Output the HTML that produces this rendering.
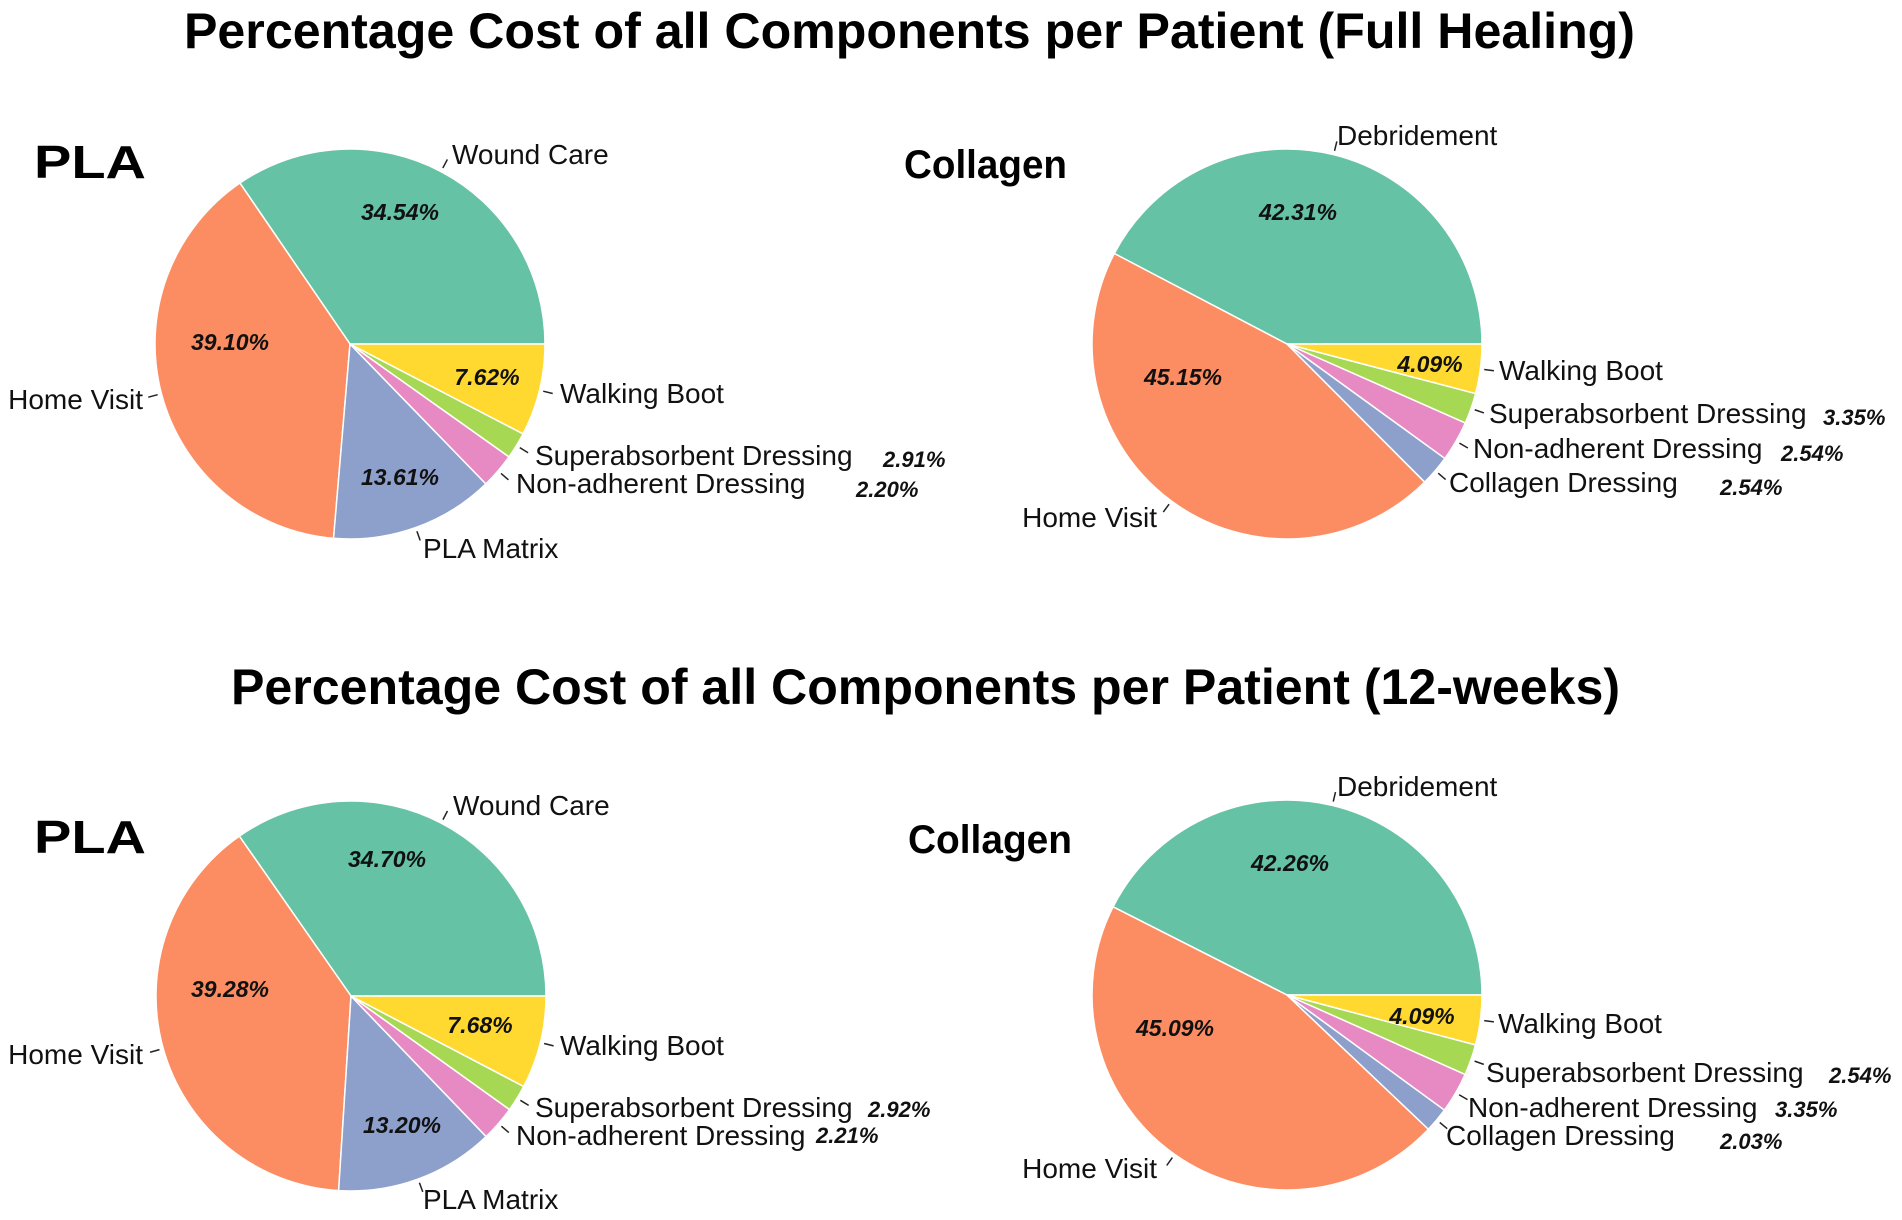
<!DOCTYPE html>
<html><head><meta charset="utf-8"><style>
html,body{margin:0;padding:0;background:#fff;}
svg{display:block;font-family:"Liberation Sans",Arial,sans-serif;}
</style></head><body>
<svg id="fig" width="1902" height="1220" viewBox="0 0 1902 1220">
<text x="184" y="48" font-size="50" font-weight="bold" textLength="1451" lengthAdjust="spacingAndGlyphs">Percentage Cost of all Components per Patient (Full Healing)</text>
<text x="231" y="704" font-size="50" font-weight="bold" textLength="1389" lengthAdjust="spacingAndGlyphs">Percentage Cost of all Components per Patient (12-weeks)</text>
<text x="34" y="178" font-size="46" font-weight="bold" textLength="112" lengthAdjust="spacingAndGlyphs">PLA</text>
<text x="904" y="178" font-size="40" font-weight="bold" textLength="163" lengthAdjust="spacingAndGlyphs">Collagen</text>
<text x="34" y="853" font-size="46" font-weight="bold" textLength="112" lengthAdjust="spacingAndGlyphs">PLA</text>
<text x="908" y="853" font-size="40" font-weight="bold" textLength="164" lengthAdjust="spacingAndGlyphs">Collagen</text>
</svg>
<script>
const colors = ["#66c2a5","#fc8d62","#8da0cb","#e78ac3","#a6d854","#ffd92f"];
// PLA full healing
const plaFullCategories = ["Wound Care","Home Visit","PLA Matrix","Non-adherent Dressing","Superabsorbent Dressing","Walking Boot"];
const plaFullValues = [34.54, 39.10, 13.61, 2.91, 2.20, 7.62];
const plaFullInner = ["34.54%","39.10%","13.61%","","","7.62%"];
const plaFullOuter = ["","","","2.20%","2.91%",""];
// Collagen full healing
const colFullCategories = ["Debridement","Home Visit","Collagen Dressing","Non-adherent Dressing","Superabsorbent Dressing","Walking Boot"];
const colFullValues = [42.31, 45.15, 2.54, 3.35, 2.54, 4.09];
const colFullInner = ["42.31%","45.15%","","","","4.09%"];
const colFullOuter = ["","","2.54%","2.54%","3.35%",""];
// PLA 12 weeks
const pla12Categories = ["Wound Care","Home Visit","PLA Matrix","Non-adherent Dressing","Superabsorbent Dressing","Walking Boot"];
const pla12Values = [34.70, 39.28, 13.20, 2.92, 2.21, 7.68];
const pla12Inner = ["34.70%","39.28%","13.20%","","","7.68%"];
const pla12Outer = ["","","","2.21%","2.92%",""];
// Collagen 12 weeks
const col12Categories = ["Debridement","Home Visit","Collagen Dressing","Non-adherent Dressing","Superabsorbent Dressing","Walking Boot"];
const col12Values = [42.26, 45.09, 2.03, 3.35, 2.54, 4.09];
const col12Inner = ["42.26%","45.09%","","","","4.09%"];
const col12Outer = ["","","2.03%","3.35%","2.54%",""];

const NS="http://www.w3.org/2000/svg";
const svg=document.getElementById('fig');
function mk(tag,attrs,parent){const e=document.createElementNS(NS,tag);for(const k in attrs)e.setAttribute(k,attrs[k]);(parent||svg).appendChild(e);return e;}

const charts=[
 {id:'pla-full',cx:350,cy:344,r:195,cats:plaFullCategories,vals:plaFullValues,inner:plaFullInner,outer:plaFullOuter,
  innerPos:[[400,212],[230,342],[400,477],null,null,[487,377]],
  labelPos:[[452,164],[143,409,'end'],[423,558],[516,493],[535,465],[560,403]],
  outerPos:[null,null,null,[856,497],[883,467],null]},
 {id:'collagen-full',cx:1287,cy:344,r:195,cats:colFullCategories,vals:colFullValues,inner:colFullInner,outer:colFullOuter,
  innerPos:[[1298,212],[1183,377],null,null,null,[1430,364]],
  labelPos:[[1337,145],[1157,527,'end'],[1449,492],[1473,458],[1489,423],[1499,380]],
  outerPos:[null,null,[1720,495],[1781,461],[1823,425],null]},
 {id:'pla-12wk',cx:351,cy:996,r:195,cats:pla12Categories,vals:pla12Values,inner:pla12Inner,outer:pla12Outer,
  innerPos:[[387,859],[230,989],[402,1125],null,null,[480,1025]],
  labelPos:[[453,815],[143,1064,'end'],[423,1209],[516,1145],[535,1117],[560,1055]],
  outerPos:[null,null,null,[816,1143],[868,1117],null]},
 {id:'collagen-12wk',cx:1287,cy:995,r:195,cats:col12Categories,vals:col12Values,inner:col12Inner,outer:col12Outer,
  innerPos:[[1290,863],[1175,1028],null,null,null,[1422,1016]],
  labelPos:[[1337,796],[1157,1178,'end'],[1446,1145],[1468,1117],[1486,1082],[1498,1033]],
  outerPos:[null,null,[1720,1149],[1775,1117],[1829,1083],null]}
];

charts.forEach(c=>{
  const g=mk('g',{});
  
  
  const total=c.vals.reduce((a,b)=>a+b,0);
  let cum=0;
  c.vals.forEach((v,i)=>{
    const a0=cum/total*2*Math.PI; cum+=v; const a1=cum/total*2*Math.PI;
    const x0=c.cx+c.r*Math.cos(a0), y0=c.cy-c.r*Math.sin(a0);
    const x1=c.cx+c.r*Math.cos(a1), y1=c.cy-c.r*Math.sin(a1);
    const large=(a1-a0)>Math.PI?1:0;
    const p=mk('path',{d:`M${c.cx},${c.cy} L${x0},${y0} A${c.r},${c.r} 0 ${large} 0 ${x1},${y1} Z`,fill:colors[i],stroke:'#fff','stroke-width':1.5,'stroke-linejoin':'round'},g);
    
    
    const am=(a0+a1)/2;
    const lx0=c.cx+c.r*1.02*Math.cos(am), ly0=c.cy-c.r*1.02*Math.sin(am);
    const lx1=c.cx+c.r*1.07*Math.cos(am), ly1=c.cy-c.r*1.07*Math.sin(am);
    const ln=mk('line',{x1:lx0,y1:ly0,x2:lx1,y2:ly1,stroke:'#222','stroke-width':1.5},g);
    
    
    const lp=c.labelPos[i];
    const t=mk('text',{x:lp[0],y:lp[1],'font-size':28,fill:'#111','text-anchor':lp[2]||'start'},g);
    t.textContent=c.cats[i];
    
    
    if(c.inner[i]&&c.innerPos[i]){
      const it=mk('text',{x:c.innerPos[i][0],y:c.innerPos[i][1]+8,'font-size':23,'font-weight':'bold','font-style':'italic','text-anchor':'middle',fill:'#111'},g);
      it.textContent=c.inner[i];
      
      
    }
    if(c.outer[i]&&c.outerPos[i]){
      const ot=mk('text',{x:c.outerPos[i][0],y:c.outerPos[i][1],'font-size':22,'font-weight':'bold','font-style':'italic',fill:'#111'},g);
      ot.textContent=c.outer[i];
      
      
    }
  });
});
</script>
</body></html>
